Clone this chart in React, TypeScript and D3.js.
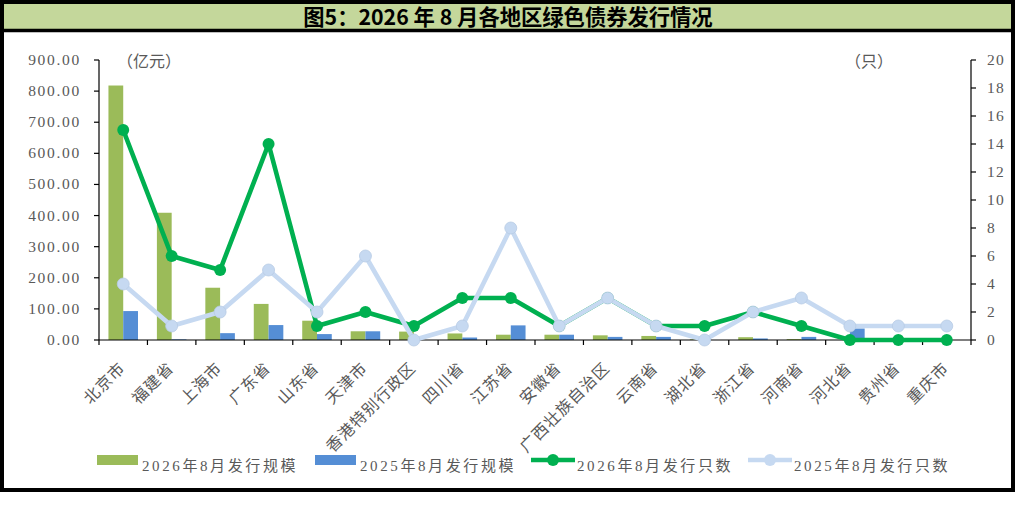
import React from 'react';
import * as d3 from 'd3';

const regions = ['北京市', '福建省', '上海市', '广东省', '山东省', '天津市', '香港特别行政区', '四川省', '江苏省', '安徽省', '广西壮族自治区', '云南省', '湖北省', '浙江省', '河南省', '河北省', '贵州省', '重庆市'];
const scale2026 = [818, 409, 168, 116, 62, 28, 27, 21, 17, 17, 15, 13, 2, 9, 3, 0, 0, 0];
const scale2025 = [93, 2, 22, 48, 19, 28, 0, 8, 47, 17, 10, 10, 0, 5, 10, 37, 0, 0];
const count2026 = [15, 6, 5, 14, 1, 2, 1, 3, 3, 1, 3, 1, 1, 2, 1, 0, 0, 0];
const count2025 = [4, 1, 2, 5, 2, 6, 0, 1, 8, 1, 3, 1, 0, 2, 3, 1, 1, 1];
const leftTicks = [0, 100, 200, 300, 400, 500, 600, 700, 800, 900];
const rightTicks = [0, 2, 4, 6, 8, 10, 12, 14, 16, 18, 20];
const seriesNames = ['2026年8月发行规模', '2025年8月发行规模', '2026年8月发行只数', '2025年8月发行只数'];
const titleText = '图5：2026 年 8 月各地区绿色债券发行情况';
const leftUnit = '（亿元）';
const rightUnit = '（只）';

const W = 1016;
const H = 525;
const plot = { left: 99, right: 971, top: 60, bottom: 340 };
const C = {
  g26: '#9bbb59',
  b25: '#558ed5',
  l26: '#00b050',
  l25: '#c6d9f1',
  l25s: '#b8cce4',
  text: '#595959',
  band: '#c4d79b',
};
const serif = "'Liberation Serif', 'Noto Sans CJK SC', serif";
const cjk = "'Noto Sans CJK SC', 'Liberation Serif', sans-serif";

export default function App() {
  const x0 = d3.scaleBand<string>().domain(regions).range([plot.left, plot.right]).padding(0);
  const x1 = d3
    .scaleBand<string>()
    .domain(['s26', 's25'])
    .range([0, x0.bandwidth()])
    .paddingInner(0)
    .paddingOuter(0.64);
  const yL = d3.scaleLinear().domain([0, 900]).range([plot.bottom, plot.top]);
  const yR = d3.scaleLinear().domain([0, 20]).range([plot.bottom, plot.top]);
  const cx = (i: number) => (x0(regions[i]) as number) + x0.bandwidth() / 2;
  const lineGen = d3
    .line<number>()
    .x((_, i) => cx(i))
    .y((d) => yR(d));

  const boundaries = regions.map((r) => x0(r) as number).concat([plot.right]);

  const legendY = 460;
  const legendTextY = 471;
  const lg = [
    { type: 'rect', x: 97, color: C.g26, tx: 142 },
    { type: 'rect', x: 315, color: C.b25, tx: 360 },
    { type: 'line', x: 531, color: C.l26, tx: 577 },
    { type: 'line', x: 748, color: C.l25, tx: 794 },
  ];

  return (
    <svg
      width={W}
      height={H}
      viewBox={`0 0 ${W} ${H}`}
      style={{ position: 'absolute', left: 0, top: 0, background: '#fff' }}
    >
      {/* frame & title band */}
      <rect x={2} y={2} width={W - 5} height={488} fill="#fff" stroke="#000" strokeWidth={4} />
      <rect x={4} y={4} width={W - 9} height={25} fill={C.band} />
      <line x1={2} x2={W - 3} y1={30.5} y2={30.5} stroke="#000" strokeWidth={3.5} />
      <text
        x={508}
        y={25}
        textAnchor="middle"
        fontFamily={cjk}
        fontWeight="bold"
        fontSize={21.3}
        fill="#000"
      >
        {titleText}
      </text>

      {/* units */}
      <text x={117} y={67} fontFamily={cjk} fontSize={16} fill={C.text}>
        {leftUnit}
      </text>
      <text x={845} y={67} fontFamily={cjk} fontSize={16} fill={C.text}>
        {rightUnit}
      </text>

      {/* bars */}
      {regions.map((r, i) => (
        <g key={r} transform={`translate(${x0(r)},0)`}>
          <rect
            x={x1('s26')}
            y={yL(scale2026[i])}
            width={x1.bandwidth()}
            height={plot.bottom - yL(scale2026[i])}
            fill={C.g26}
          />
          <rect
            x={x1('s25')}
            y={yL(scale2025[i])}
            width={x1.bandwidth()}
            height={plot.bottom - yL(scale2025[i])}
            fill={C.b25}
          />
        </g>
      ))}

      {/* axes */}
      <line x1={plot.left} x2={plot.left} y1={plot.top} y2={plot.bottom} stroke="#000" strokeWidth={1.2} />
      <line x1={plot.right} x2={plot.right} y1={plot.top} y2={plot.bottom} stroke="#000" strokeWidth={1.2} />
      <line x1={plot.left} x2={plot.right} y1={plot.bottom} y2={plot.bottom} stroke="#000" strokeWidth={1.2} />
      {leftTicks.map((t) => (
        <g key={'l' + t}>
          <line x1={plot.left - 5} x2={plot.left} y1={yL(t)} y2={yL(t)} stroke="#000" strokeWidth={1.2} />
          <text
            x={81}
            y={yL(t) + 5}
            textAnchor="end"
            fontFamily={serif}
            fontSize={15.5}
            letterSpacing={1.7}
            fill={C.text}
          >
            {t.toFixed(2)}
          </text>
        </g>
      ))}
      {rightTicks.map((t) => (
        <g key={'r' + t}>
          <line x1={plot.right} x2={plot.right + 5} y1={yR(t)} y2={yR(t)} stroke="#000" strokeWidth={1.2} />
          <text
            x={987}
            y={yR(t) + 5}
            textAnchor="start"
            fontFamily={serif}
            fontSize={15.5}
            letterSpacing={1.2}
            fill={C.text}
          >
            {t}
          </text>
        </g>
      ))}
      {boundaries.map((b, i) => (
        <line key={'b' + i} x1={b} x2={b} y1={plot.bottom} y2={plot.bottom + 5} stroke="#000" strokeWidth={1.2} />
      ))}

      {/* category labels */}
      {regions.map((r, i) => (
        <text
          key={'c' + r}
          transform={`translate(${cx(i) + 3},${369}) rotate(-45)`}
          textAnchor="end"
          fontFamily={cjk}
          fontSize={16}
          letterSpacing={1}
          fill={C.text}
        >
          {r}
        </text>
      ))}

      {/* lines */}
      <path d={lineGen(count2026) || ''} fill="none" stroke={C.l26} strokeWidth={4.6} strokeLinejoin="round" />
      {count2026.map((v, i) => (
        <circle key={'m26' + i} cx={cx(i)} cy={yR(v)} r={6} fill={C.l26} />
      ))}
      <path d={lineGen(count2025) || ''} fill="none" stroke={C.l25} strokeWidth={4.6} strokeLinejoin="round" />
      {count2025.map((v, i) => (
        <circle key={'m25' + i} cx={cx(i)} cy={yR(v)} r={6} fill={C.l25} stroke={C.l25s} strokeWidth={0.8} />
      ))}

      {/* legend */}
      {lg.map((l, i) => (
        <g key={'lg' + i}>
          {l.type === 'rect' ? (
            <rect x={l.x} y={455} width={41} height={10} fill={l.color} />
          ) : (
            <g>
              <line x1={l.x} x2={l.x + 44} y1={legendY} y2={legendY} stroke={l.color} strokeWidth={4.6} />
              <circle cx={l.x + 22} cy={legendY} r={6} fill={l.color} />
            </g>
          )}
          <text x={l.tx} y={legendTextY} fontFamily={serif} fontSize={15} letterSpacing={2.6} fill={C.text}>
            {seriesNames[i]}
          </text>
        </g>
      ))}
    </svg>
  );
}
